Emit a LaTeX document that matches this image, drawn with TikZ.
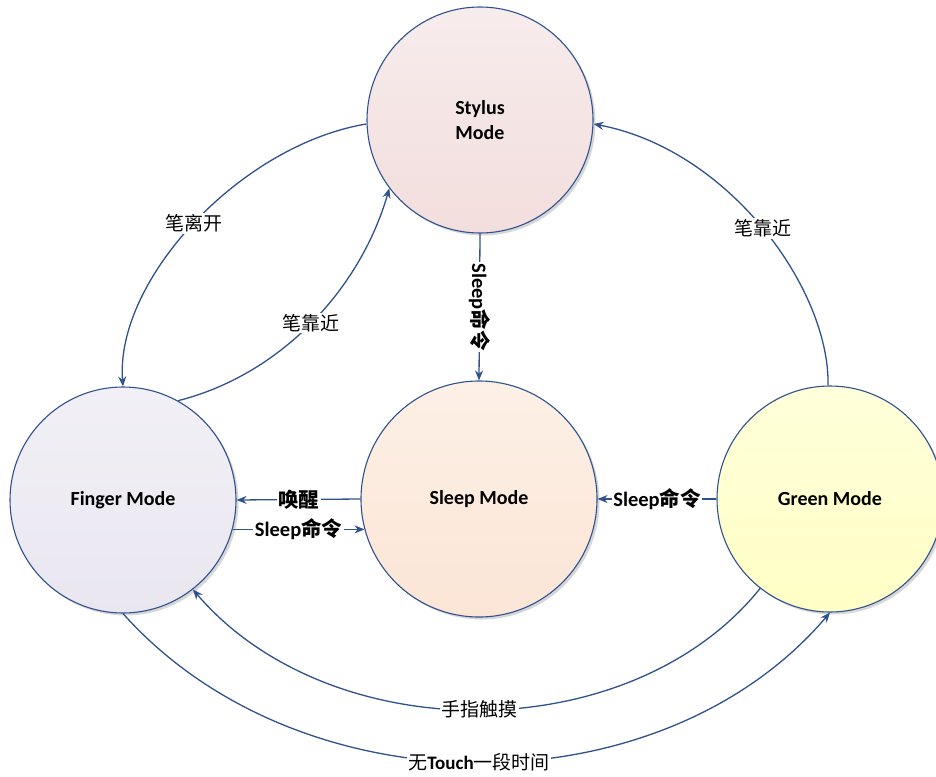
\documentclass[tikz,border=0pt]{standalone}
\usepackage{fontspec}
\setmainfont{Carlito}
\newfontfamily\cjk{Noto Sans CJK SC}
\usetikzlibrary{arrows.meta,shadows}
\definecolor{edgeblue}{HTML}{2F528F}
\definecolor{stylusA}{HTML}{F7ECEC}
\definecolor{stylusB}{HTML}{F2DEDD}
\definecolor{fingerA}{HTML}{F2F0F6}
\definecolor{fingerB}{HTML}{E9E6F0}
\definecolor{sleepA}{HTML}{FDF0E6}
\definecolor{sleepB}{HTML}{FBE5D6}
\definecolor{greenA}{HTML}{FFFFDA}
\definecolor{greenB}{HTML}{FFFFC6}
\newcommand{\zhb}[1]{{\cjk\bfseries #1}}
\begin{document}
\begin{tikzpicture}[x=1pt,y=-1pt,
  state/.style={circle, draw=edgeblue, line width=1.1pt, inner sep=0pt,
    font=\fontsize{20}{25}\selectfont\bfseries, align=center,
    drop shadow={fill=black!45, opacity=0.35, shadow xshift=2.5pt, shadow yshift=-2.5pt}},
  conn/.style={draw=edgeblue, line width=1.3pt, -{Stealth[length=10pt,width=8pt]}},
  lbl/.style={fill=white, inner sep=1.5pt, font=\fontsize{19}{22}\selectfont\cjk},
  blbl/.style={fill=white, inner sep=1.5pt, font=\fontsize{20.5}{22}\selectfont\bfseries}
]
\useasboundingbox (0,0) rectangle (936,776);

\node[state, minimum size=226pt, top color=stylusA, bottom color=stylusB] (stylus) at (480,120) {Stylus\\Mode};
\node[state, minimum size=226pt, top color=fingerA, bottom color=fingerB] (finger) at (123,500) {Finger Mode};
\node[state, minimum size=236pt, top color=sleepA, bottom color=sleepB] (sleep) at (479,499) {Sleep Mode};
\node[state, minimum size=226pt, top color=greenA, bottom color=greenB] (green) at (830,499) {Green Mode};

% Stylus -> Finger
\draw[conn] (stylus.182) .. controls (240,145) and (115,280) .. node[lbl, pos=0.5] {笔离开} (finger.90);
% Finger -> Stylus
\draw[conn] (finger.61) .. controls (280,375) and (360,290) .. node[lbl, pos=0.5] {笔靠近} (stylus.217);
% Green -> Stylus
\draw[conn] (green.91) .. controls (830,290) and (730,150) .. node[lbl, pos=0.5] {笔靠近} (stylus.-2);
% Stylus -> Sleep
\draw[conn] (stylus.south) -- node[blbl, rotate=-90] {Sleep\zhb{命令}} (sleep.north);
% Sleep -> Finger
\draw[conn] (sleep.west) -- node[blbl] {\zhb{唤醒}} (finger.east);
% Finger -> Sleep
\draw[conn] (finger.-15) -- node[blbl] {Sleep\zhb{命令}} (finger.-15 -| sleep.195);
% Green -> Sleep
\draw[conn] (green.west) -- node[blbl] {Sleep\zhb{命令}} (sleep.east);
% Green -> Finger
\draw[conn] (green.232) .. controls (630,750) and (330,750) .. node[lbl, pos=0.5] {手指触摸} (finger.-52);
% Finger -> Green
\draw[conn] (finger.-90) .. controls (300,812) and (660,812) .. node[lbl, pos=0.5] {无{\rmfamily\bfseries Touch}一段时间} (green.-90);
\end{tikzpicture}
\end{document}
